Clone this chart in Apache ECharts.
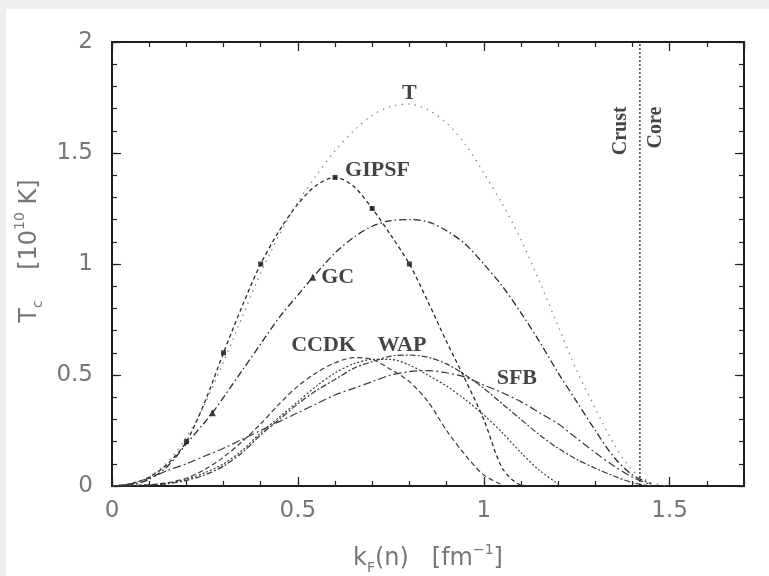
<!DOCTYPE html>
<html>
<head>
<meta charset="utf-8">
<script src="https://cdn.jsdelivr.net/npm/echarts@6/dist/echarts.min.js"></script>
<style>
html,body{margin:0;padding:0;background:#eeeeee;width:769px;height:576px;overflow:hidden;}
#panel{position:absolute;left:6px;top:9px;width:763px;height:567px;background:#ffffff;}
</style>
</head>
<body>
<div id="panel"></div>
<script>
// ---- data ----
const tX = [0,0.05,0.1,0.15,0.2,0.25,0.3,0.35,0.4,0.45,0.5,0.55,0.6,0.65,0.7,0.75,0.8,0.85,0.9,0.95,1.0,1.05,1.1,1.15,1.2,1.25,1.3,1.35,1.4,1.45,1.5];
const tY = [0,0.01,0.04,0.11,0.22,0.37,0.56,0.76,0.96,1.13,1.28,1.40,1.51,1.60,1.67,1.71,1.72,1.695,1.635,1.54,1.41,1.27,1.11,0.92,0.72,0.52,0.35,0.19,0.07,0.015,0];

const gipsfX = [0,0.05,0.1,0.15,0.2,0.25,0.3,0.35,0.4,0.45,0.5,0.55,0.6,0.65,0.7,0.75,0.8,0.85,0.9,0.95,1.0,1.05,1.1,1.15];
const gipsfY = [0,0.01,0.04,0.1,0.2,0.38,0.6,0.81,1.0,1.15,1.27,1.355,1.39,1.35,1.25,1.13,1.0,0.83,0.65,0.48,0.3,0.08,0.005,0];
const gipsfMarkX = [0.2,0.3,0.4,0.6,0.7,0.8];
const gipsfMarkY = [0.2,0.6,1.0,1.39,1.25,1.0];

const gcX = [0,0.05,0.1,0.15,0.2,0.27,0.35,0.4,0.45,0.5,0.54,0.6,0.65,0.7,0.75,0.8,0.85,0.9,0.95,1.0,1.05,1.1,1.15,1.2,1.25,1.3,1.35,1.4,1.45];
const gcY = [0,0.005,0.03,0.09,0.19,0.33,0.52,0.64,0.76,0.86,0.94,1.05,1.12,1.17,1.195,1.2,1.19,1.15,1.09,1.0,0.9,0.78,0.65,0.51,0.38,0.25,0.13,0.05,0.01];
const gcMarkX = [0.27,0.54];
const gcMarkY = [0.33,0.94];

const ccdkX = [0,0.1,0.15,0.2,0.25,0.3,0.35,0.4,0.45,0.5,0.55,0.6,0.65,0.7,0.75,0.8,0.85,0.9,0.95,1.0,1.05];
const ccdkY = [0,0.005,0.015,0.035,0.075,0.13,0.2,0.28,0.37,0.45,0.51,0.555,0.578,0.57,0.525,0.47,0.38,0.25,0.14,0.05,0.005];

const otherX = [0,0.1,0.15,0.2,0.25,0.3,0.35,0.4,0.45,0.5,0.55,0.6,0.65,0.7,0.75,0.8,0.85,0.9,0.95,1.0,1.05,1.1,1.15,1.2];
const otherY = [0,0.005,0.012,0.03,0.06,0.1,0.16,0.24,0.31,0.38,0.45,0.51,0.55,0.57,0.57,0.545,0.5,0.45,0.39,0.32,0.24,0.15,0.07,0.01];

const wapX = [0,0.1,0.15,0.2,0.25,0.3,0.35,0.4,0.45,0.5,0.55,0.6,0.65,0.7,0.75,0.8,0.85,0.9,0.95,1.0,1.05,1.1,1.15,1.2,1.25,1.3,1.35,1.4,1.45];
const wapY = [0,0.004,0.01,0.025,0.05,0.09,0.15,0.23,0.3,0.37,0.43,0.48,0.53,0.56,0.585,0.59,0.58,0.55,0.5,0.44,0.37,0.3,0.23,0.17,0.12,0.08,0.045,0.015,0];

const sfbX = [0,0.05,0.1,0.15,0.2,0.25,0.3,0.35,0.4,0.45,0.5,0.55,0.6,0.65,0.7,0.75,0.8,0.85,0.9,0.95,1.0,1.05,1.1,1.15,1.2,1.25,1.3,1.35,1.4,1.45];
const sfbY = [0,0.01,0.035,0.07,0.1,0.135,0.17,0.21,0.25,0.29,0.33,0.37,0.41,0.44,0.47,0.5,0.515,0.52,0.51,0.49,0.455,0.42,0.38,0.33,0.28,0.215,0.15,0.09,0.04,0.005];

const crustCoreX = 1.42;
const crustCoreYRange = [0, 2];

const curveLabels = ['T','GIPSF','GC','CCDK','WAP','SFB'];
const curveLabelX = [0.80,0.714,0.607,0.569,0.78,1.089];
const curveLabelY = [1.77,1.424,0.94,0.635,0.635,0.486];

const sideLabels = ['Crust','Core'];
const sideLabelX = [1.37,1.464];
const sideLabelY = [1.60,1.615];

const xTickMajor = 0.5, xTickMinor = 0.1;
const yTickMajor = 0.5, yTickMinor = 0.1;

// ---- chart ----
const zip = (a,b) => a.map((v,i)=>[v,b[i]]);
const chart = echarts.init(document.getElementById('panel'), null, {renderer:'canvas'});

const sans = 'DejaVu Sans';
const serif = 'Liberation Serif';
const grey = '#777777';
const axisLineStyle = {show:true, onZero:false, lineStyle:{color:'#111', width:1.5}};

function xAx(pos, interval, len, showLabel, extra) {
  return Object.assign({
    type:'value', position:pos, min:0, max:1.7, interval:interval,
    axisLine: axisLineStyle,
    axisTick:{show:true, inside:true, length:len, lineStyle:{color:'#222', width:1.2}},
    axisLabel:{show:showLabel, showMaxLabel:false, color:grey, fontSize:23, fontFamily:sans, margin:14},
    splitLine:{show:false}
  }, extra||{});
}
function yAx(pos, interval, len, showLabel, extra) {
  return Object.assign({
    type:'value', position:pos, min:0, max:2, interval:interval,
    axisLine: axisLineStyle,
    axisTick:{show:true, inside:true, length:len, lineStyle:{color:'#222', width:1.2}},
    axisLabel:{show:showLabel, color:grey, fontSize:23, fontFamily:sans, margin:19},
    splitLine:{show:false}
  }, extra||{});
}

const lineSeries = (name, xs, ys, type, color, width) => ({
  name: name, type:'line', xAxisIndex:0, yAxisIndex:0,
  data: zip(xs, ys), showSymbol:false, symbol:'none', smooth:0.3,
  lineStyle:{color:color, width:width||1.2, type:type}, silent:true, z:3
});

const richName = {
  a:{fontSize:24, fontFamily:sans, color:grey, lineHeight:32},
  sub:{fontSize:14, fontFamily:sans, color:grey, verticalAlign:'bottom', lineHeight:14},
  sup:{fontSize:14, fontFamily:sans, color:grey, verticalAlign:'top', lineHeight:14},
  g:{fontSize:24, width:26, lineHeight:32}
};

const option = {
  animation:false,
  backgroundColor:'#ffffff',
  grid:{left:106, right:25, top:33, bottom:90, containLabel:false, outerBoundsMode:'none'},
  xAxis:[
    xAx('bottom', xTickMajor, 9, true, {
      name:'{a|k}{sub|F}{a|(n)   [fm}{sup|\u22121}{a|]}',
      nameLocation:'middle', nameGap:57,
      nameTextStyle:{color:grey, rich:richName}
    }),
    xAx('bottom', xTickMinor, 5, false),
    xAx('top', xTickMajor, 9, false),
    xAx('top', xTickMinor, 5, false)
  ],
  yAxis:[
    yAx('left', yTickMajor, 9, true, {
      name:'{g| }{a|T}{sub|c}{a|    [10}{sup|10}{a| K]}',
      nameLocation:'middle', nameGap:58, nameRotate:90,
      nameTextStyle:{color:grey, rich:richName}
    }),
    yAx('left', yTickMinor, 5, false),
    yAx('right', yTickMajor, 9, false),
    yAx('right', yTickMinor, 5, false)
  ],
  series:[
    lineSeries('T', tX, tY, [1.5,5], '#8a8a8a', 1.3),
    lineSeries('GIPSF', gipsfX, gipsfY, [4,3], '#2a2a2a', 1.3),
    lineSeries('GC', gcX, gcY, [7,3,1.5,3], '#2a2a2a', 1.3),
    lineSeries('CCDK', ccdkX, ccdkY, [5,3], '#3a3a3a', 1.2),
    lineSeries('other', otherX, otherY, [2,2], '#3a3a3a', 1.2),
    lineSeries('WAP', wapX, wapY, [6,2,2,2], '#3a3a3a', 1.2),
    lineSeries('SFB', sfbX, sfbY, [8,3,2,3], '#3a3a3a', 1.2),
    {
      type:'line', xAxisIndex:0, yAxisIndex:0, symbol:'none', silent:true,
      data: crustCoreYRange.map(y=>[crustCoreX, y]),
      lineStyle:{color:'#222', width:1.3, type:[2,2]}, z:3
    },
    {
      type:'scatter', xAxisIndex:0, yAxisIndex:0, silent:true, symbol:'rect', symbolSize:5,
      itemStyle:{color:'#111'}, data: zip(gipsfMarkX, gipsfMarkY), z:4
    },
    {
      type:'scatter', xAxisIndex:0, yAxisIndex:0, silent:true, symbol:'triangle', symbolSize:7,
      itemStyle:{color:'#111'}, data: zip(gcMarkX, gcMarkY), z:4
    },
    {
      type:'scatter', xAxisIndex:0, yAxisIndex:0, silent:true, symbol:'circle', symbolSize:1,
      itemStyle:{color:'rgba(0,0,0,0)'},
      data: curveLabels.map((t,i)=>({value:[curveLabelX[i], curveLabelY[i]], name:t})),
      label:{show:true, position:'inside', formatter:'{b}', color:'#151515', fontSize:22, fontWeight:'bold', fontFamily:serif},
      z:5
    },
    {
      type:'scatter', xAxisIndex:0, yAxisIndex:0, silent:true, symbol:'circle', symbolSize:1,
      itemStyle:{color:'rgba(0,0,0,0)'},
      data: sideLabels.map((t,i)=>({value:[sideLabelX[i], sideLabelY[i]], name:t})),
      label:{show:true, position:'inside', rotate:90, formatter:'{b}', color:'#151515', fontSize:20, fontWeight:'bold', fontFamily:serif},
      z:5
    }
  ]
};
chart.setOption(option);
</script>
</body>
</html>
